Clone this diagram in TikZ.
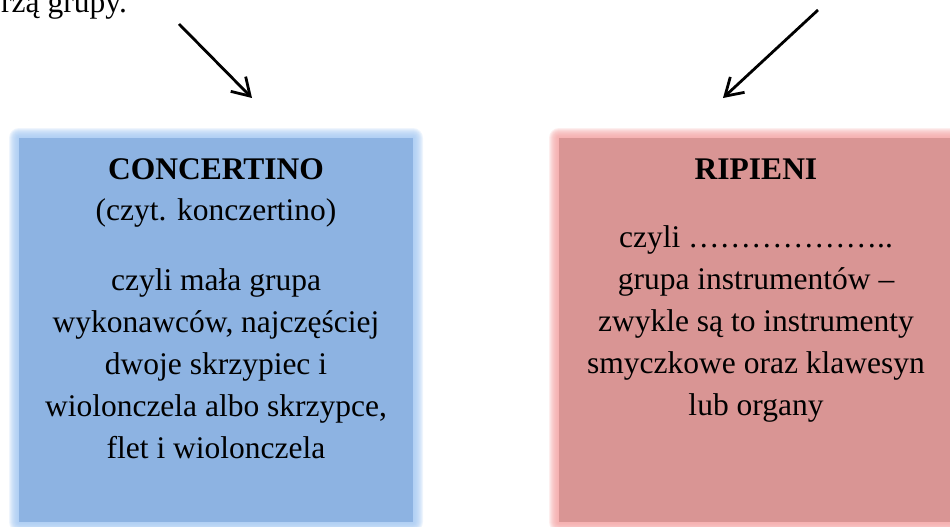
\documentclass[tikz,border=0pt]{standalone}
\usepackage{fontspec}
\setmainfont{Liberation Serif}
\usepackage{tikz}
\usetikzlibrary{arrows.meta}
\definecolor{concfill}{HTML}{8DB3E2}
\definecolor{concglow}{HTML}{A6C9F2}
\definecolor{ripfill}{HTML}{D99594}
\definecolor{ripglow}{HTML}{F4A6A6}
\tikzset{
  line/.style={anchor=base, inner sep=0pt, font=\fontsize{31.5}{42}\selectfont},
  pointer/.style={line width=2.8pt, -{Straight Barb[length=17pt,width=21pt]}}
}

\begin{document}
\begin{tikzpicture}[x=1pt, y=-1pt]
\useasboundingbox (0,0) rectangle (950,527);
\node[line, anchor=base west] (intro) at (1,13) {rzą grupy.};
\foreach \g in {1,...,10} {
  \fill[concglow, opacity=0.18, rounded corners=\g pt] (19-\g,138-\g) rectangle (413+\g,522+\g);
  \fill[ripglow, opacity=0.18, rounded corners=\g pt] (559-\g,138-\g) rectangle (953+\g,522+\g);
}
\fill[concfill] (19,138) rectangle (413,522);
\fill[ripfill] (559,138) rectangle (953,522);
\node[line, font=\fontsize{31.5}{42}\selectfont\bfseries] (conctitle) at (216,179) {CONCERTINO};
\node[line] (concread) at (216,220) {(czyt. konczertino)};
\node[line] (conc1) at (216,290) {czyli mała grupa};
\node[line] (conc2) at (216,332) {wykonawców, najczęściej};
\node[line] (conc3) at (216,374) {dwoje skrzypiec i};
\node[line] (conc4) at (216,416) {wiolonczela albo skrzypce,};
\node[line] (conc5) at (216,458) {flet i wiolonczela};
\node[line, font=\fontsize{31.5}{42}\selectfont\bfseries] (riptitle) at (756,179) {RIPIENI};
\node[line] (rip1) at (756,247) {czyli ………………..};
\node[line] (rip2) at (756,289) {grupa instrumentów –};
\node[line] (rip3) at (756,331) {zwykle są to instrumenty};
\node[line] (rip4) at (756,373) {smyczkowe oraz klawesyn};
\node[line] (rip5) at (756,415) {lub organy};
\coordinate (lfrom) at (179,24);
\coordinate (lto) at (252,98);
\coordinate (rfrom) at (818,10);
\coordinate (rto) at (723,98);
\draw[pointer] (lfrom) -- (lto);
\draw[pointer] (rfrom) -- (rto);
\end{tikzpicture}
\end{document}
